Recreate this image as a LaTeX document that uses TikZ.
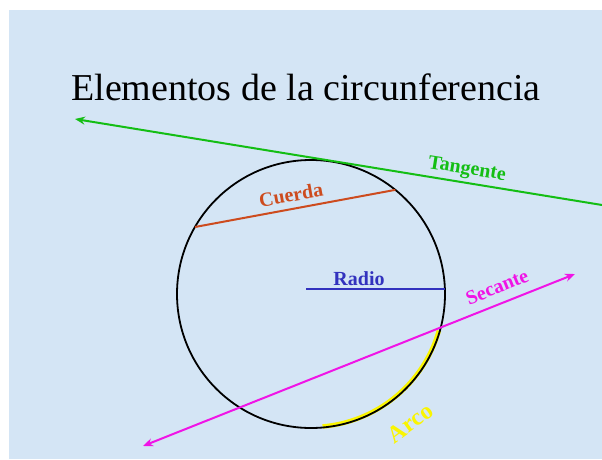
\documentclass[tikz,border=0pt]{standalone}
\usepackage{fontspec}
\setmainfont{Liberation Serif}
\usepackage{xcolor}
\usetikzlibrary{arrows.meta,calc}

\definecolor{fondo}{RGB}{212,229,245}
\definecolor{verde}{RGB}{20,190,20}
\definecolor{naranja}{RGB}{205,75,30}
\definecolor{azul}{RGB}{50,50,190}
\definecolor{rosa}{RGB}{240,20,230}
\definecolor{amarillo}{RGB}{250,245,0}

\begin{document}
\begin{tikzpicture}[x=1pt,y=1pt,
    etiq/.style={font=\fontsize{20}{20}\selectfont\bfseries, inner sep=0pt},
    linea/.style={line width=2pt},
    punta/.tip={Stealth[length=10pt,width=8pt]}]
    \useasboundingbox (0,0) rectangle (602,459);
    \fill[fondo] (9,0) rectangle (602,449);

    % titulo
    \node[anchor=base, font=\fontsize{38}{38}\selectfont] (titulo) at (306,359) {Elementos de la circunferencia};

    % circunferencia y arco
    \coordinate (centro) at (311,165);
    \draw[amarillo, line width=4.5pt] ($(centro)+(-16:133pt)$) arc (-16:-85:133pt);
    \draw[line width=1.8pt] (centro) circle (134pt);

    % tangente
    \coordinate (tg1) at (602,254);
    \coordinate (tg2) at (75,340);
    \draw[verde, linea, -punta] (tg1) -- (tg2);
    \node[etiq, verde, rotate=-9] (tangente) at (467,289) {Tangente};

    % cuerda
    \coordinate (cu1) at ($(centro)+(150:134pt)$);
    \coordinate (cu2) at ($(centro)+(51:134pt)$);
    \draw[naranja, linea] (cu1) -- (cu2);
    \node[etiq, naranja, rotate=10] (cuerda) at (291,264) {Cuerda};

    % radio
    \coordinate (ra0) at (306,170);
    \coordinate (ra) at (445,170);
    \draw[azul, linea] (ra0) -- (ra);
    \node[etiq, azul] (radio) at (359,180) {Radio};

    % secante
    \coordinate (se1) at (143,13);
    \coordinate (se2) at (575,185);
    \draw[rosa, linea, punta-punta] (se1) -- (se2);
    \node[etiq, rosa, rotate=22] (secante) at (497,172) {Secante};

    % arco
    \node[etiq, amarillo, rotate=36, font=\fontsize{24}{24}\selectfont\bfseries] (arco) at (410,36) {Arco};
\end{tikzpicture}
\end{document}
